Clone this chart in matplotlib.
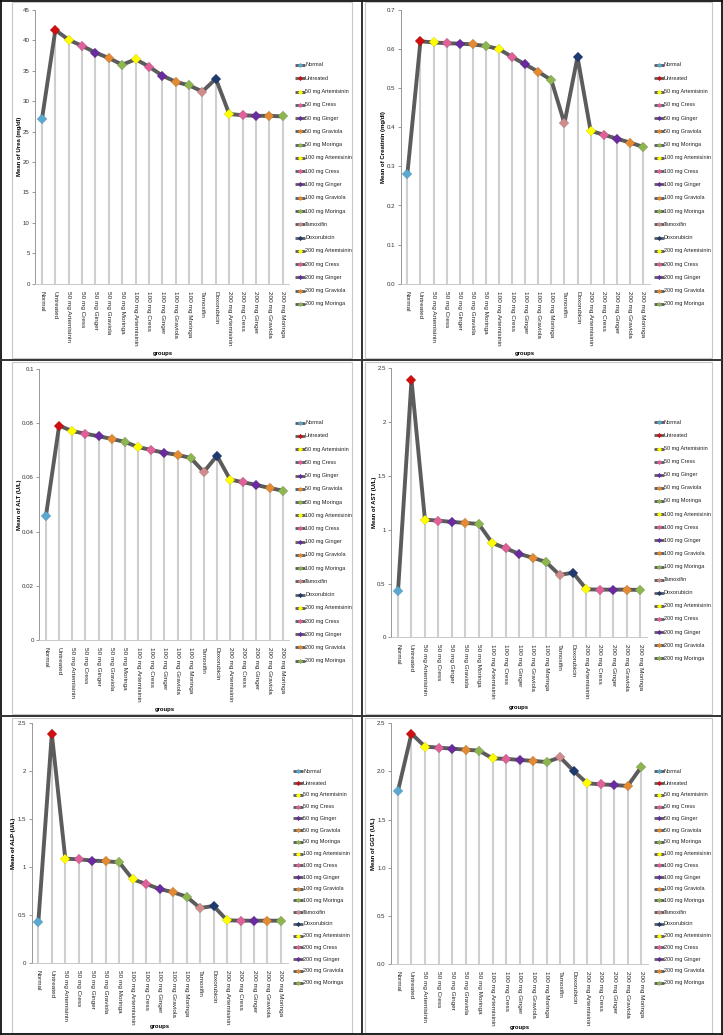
import matplotlib
matplotlib.use("Agg")
import matplotlib.pyplot as plt
from matplotlib.lines import Line2D
from matplotlib.patches import Rectangle

plt.rcParams['font.family'] = ['Liberation Sans Narrow', 'Liberation Sans', 'DejaVu Sans']

# groups and marker colours
groups = ["Normal", "Untreated",
          "50 mg Artemisinin", "50 mg Cress", "50 mg Ginger", "50 mg Graviola", "50 mg Moringa",
          "100 mg Artemisinin", "100 mg Cress", "100 mg Ginger", "100 mg Graviola", "100 mg Moringa",
          "Tamoxifin", "Doxorubicin",
          "200 mg Artemisinin", "200 mg Cress", "200 mg Ginger", "200 mg Graviola", "200 mg Moringa"]
dose_colors = ["#FFFF00", "#E0609A", "#6A2BA0", "#E48A33", "#8DB550"]
colors = ["#5BA8D0", "#D01010"] + dose_colors + dose_colors + ["#D08C8C", "#1F3A70"] + dose_colors

# values
urea = [27.1, 41.7, 40.1, 39.1, 38.0, 37.1, 36.0, 36.9, 35.7, 34.2, 33.2, 32.6,
        31.6, 33.7, 27.9, 27.7, 27.6, 27.6, 27.5]
creatinin = [0.28, 0.62, 0.617, 0.615, 0.614, 0.612, 0.608, 0.600, 0.580, 0.561, 0.542, 0.521,
             0.41, 0.58, 0.391, 0.381, 0.371, 0.361, 0.350]
alt = [0.0459, 0.0791, 0.0771, 0.0761, 0.0752, 0.0742, 0.0731, 0.0712, 0.0701, 0.0691, 0.0683, 0.0672,
       0.0620, 0.0680, 0.0592, 0.0582, 0.0572, 0.0561, 0.0551]
ast = [0.43, 2.39, 1.093, 1.084, 1.072, 1.063, 1.053, 0.877, 0.827, 0.775, 0.740, 0.700,
       0.579, 0.601, 0.446, 0.443, 0.443, 0.443, 0.440]
alp = [0.43, 2.39, 1.090, 1.083, 1.070, 1.063, 1.052, 0.875, 0.826, 0.774, 0.740, 0.694,
       0.576, 0.597, 0.448, 0.444, 0.444, 0.444, 0.444]
ggt = [1.797, 2.393, 2.258, 2.247, 2.237, 2.226, 2.216, 2.136, 2.130, 2.120, 2.109, 2.098,
       2.147, 2.005, 1.877, 1.866, 1.859, 1.849, 2.046]

ylabels = ["Mean of Urea (mg/dl)", "Mean of Creatinin (mg/dl)", "Mean of ALT (U/L)",
           "Mean of AST (U/L)", "Mean of ALP (U/L)", "Mean of GGT (U/L)"]
yticks = [[0, 5, 10, 15, 20, 25, 30, 35, 40, 45],
          [0, 0.1, 0.2, 0.3, 0.4, 0.5, 0.6, 0.7],
          [0, 0.02, 0.04, 0.06, 0.08, 0.1],
          [0, 0.5, 1, 1.5, 2, 2.5],
          [0, 0.5, 1, 1.5, 2, 2.5],
          [0, 0.5, 1.0, 1.5, 2.0, 2.5]]
yticklabels = [["0", "5", "10", "15", "20", "25", "30", "35", "40", "45"],
               ["0.0", "0.1", "0.2", "0.3", "0.4", "0.5", "0.6", "0.7"],
               ["0", "0.02", "0.04", "0.06", "0.08", "0.1"],
               ["0", "0.5", "1", "1.5", "2", "2.5"],
               ["0", "0.5", "1", "1.5", "2", "2.5"],
               ["0.0", "0.5", "1.0", "1.5", "2.0", "2.5"]]
series = [urea, creatinin, alt, ast, alp, ggt]

W, H = 723, 1035
fig = plt.figure(figsize=(W / 100, H / 100), dpi=100)
fig.patch.set_facecolor("white")

# pixel boxes: axes (left, right, top, bottom), legend x, legend first/last row y, ylabel x
layout = [
    (35.3, 289.4, 10, 283.7, 295, 65, 304, 20),
    (400.8, 649.5, 10, 283.7, 654, 65, 304, 384),
    (39.4, 289.3, 369, 640, 295, 422.7, 660.7, 20),
    (391.3, 647, 368.3, 637.3, 654, 422.3, 658.3, 374),
    (31.6, 287.7, 723.3, 963.3, 293, 771.3, 982.7, 14),
    (391.2, 648, 723.3, 964, 654, 771.3, 982.7, 373),
]


def fbox(l, r, t, b):
    return [l / W, 1 - b / H, (r - l) / W, (b - t) / H]


def fline(x0, y0, x1, y1, color, lw):
    fig.add_artist(Line2D([x0 / W, x1 / W], [1 - y0 / H, 1 - y1 / H],
                          transform=fig.transFigure, color=color, lw=lw))


# light grey chart frames
rows = [(0, 360), (360, 716), (716, 1035)]
for (t, b) in rows:
    for (l, r) in [(12, 352), (365, 711.7)]:
        fig.add_artist(Rectangle((l / W, 1 - (b - 2) / H), (r - l) / W, (b - t - 4) / H,
                                 transform=fig.transFigure, fill=False, ec="#c8c8c8", lw=0.8))

x = list(range(len(groups)))
for i, vals in enumerate(series):
    l, r, t, b, lgx, ly0, ly1, ylx = layout[i]
    ax = fig.add_axes(fbox(l, r, t, b))
    ax.vlines(x, 0, vals, color="#cfcfcf", lw=1.5, zorder=1)
    ax.plot(x, vals, color="#5c5c5c", lw=2.8, zorder=2, solid_joinstyle="round")
    for xi, v, c in zip(x, vals, colors):
        ax.plot(xi, v, marker="D", ms=4.8, color=c, mec="#00000033", mew=0.3, zorder=3)
    ax.set_xlim(-0.5, len(groups) - 0.5)
    ax.set_ylim(yticks[i][0], yticks[i][-1])
    ax.set_yticks(yticks[i])
    ax.set_yticklabels(yticklabels[i])
    ax.set_xticks(x)
    ax.set_xticklabels(groups, rotation=270, fontsize=4.6, color="#222222")
    ax.tick_params(axis="x", length=0, pad=5)
    ax.tick_params(axis="y", length=2, width=0.6, color="#888888", labelsize=4.4,
                   labelcolor="#333333", pad=2)
    for s in ["top", "right"]:
        ax.spines[s].set_visible(False)
    ax.spines["left"].set_color("#888888")
    ax.spines["left"].set_linewidth(0.6)
    ax.spines["bottom"].set_color("#c0c0c0")
    ax.spines["bottom"].set_linewidth(0.6)
    ax.patch.set_alpha(0)

    fig.text(ylx / W, 1 - (t + b) / 2 / H, ylabels[i], rotation=90, fontsize=4.3,
             fontweight="bold", ha="center", va="center")
    gy = b + 70 if i < 4 else b + 63
    fig.text((l + r) / 2 / W, 1 - gy / H, "groups", fontsize=4.2, fontweight="bold",
             ha="center", va="center")

    # legend
    lax = fig.add_axes(fbox(lgx, lgx + 56, ly0 - 6, ly1 + 6))
    lax.set_xlim(0, 56)
    lax.set_ylim(ly1 + 6, ly0 - 6)
    lax.axis("off")
    n = len(groups)
    step = (ly1 - ly0) / (n - 1)
    for k, (name, c) in enumerate(zip(groups, colors)):
        yy = ly0 + k * step
        lax.plot([0, 9.5], [yy, yy], color="#5c5c5c", lw=2.0, solid_capstyle="butt")
        lax.plot(4.75, yy, marker="D", ms=2.6, color=c, mew=0)
        lax.text(10, yy, name, fontsize=4.0, va="center", ha="left", color="#222222")

# black cell borders
fline(0.7, 0, 0.7, H, "#111111", 1.3)
fline(W - 0.7, 0, W - 0.7, H, "#111111", 1.3)
fline(0, 0.7, W, 0.7, "#111111", 1.3)
fline(0, H - 0.7, W, H - 0.7, "#111111", 1.3)
fline(361.5, 0, 361.5, H, "#222222", 1.3)
fline(0, 360, W, 360, "#333333", 1.4)
fline(0, 716, W, 716, "#333333", 1.4)

fig.savefig("out.png", dpi=100)
